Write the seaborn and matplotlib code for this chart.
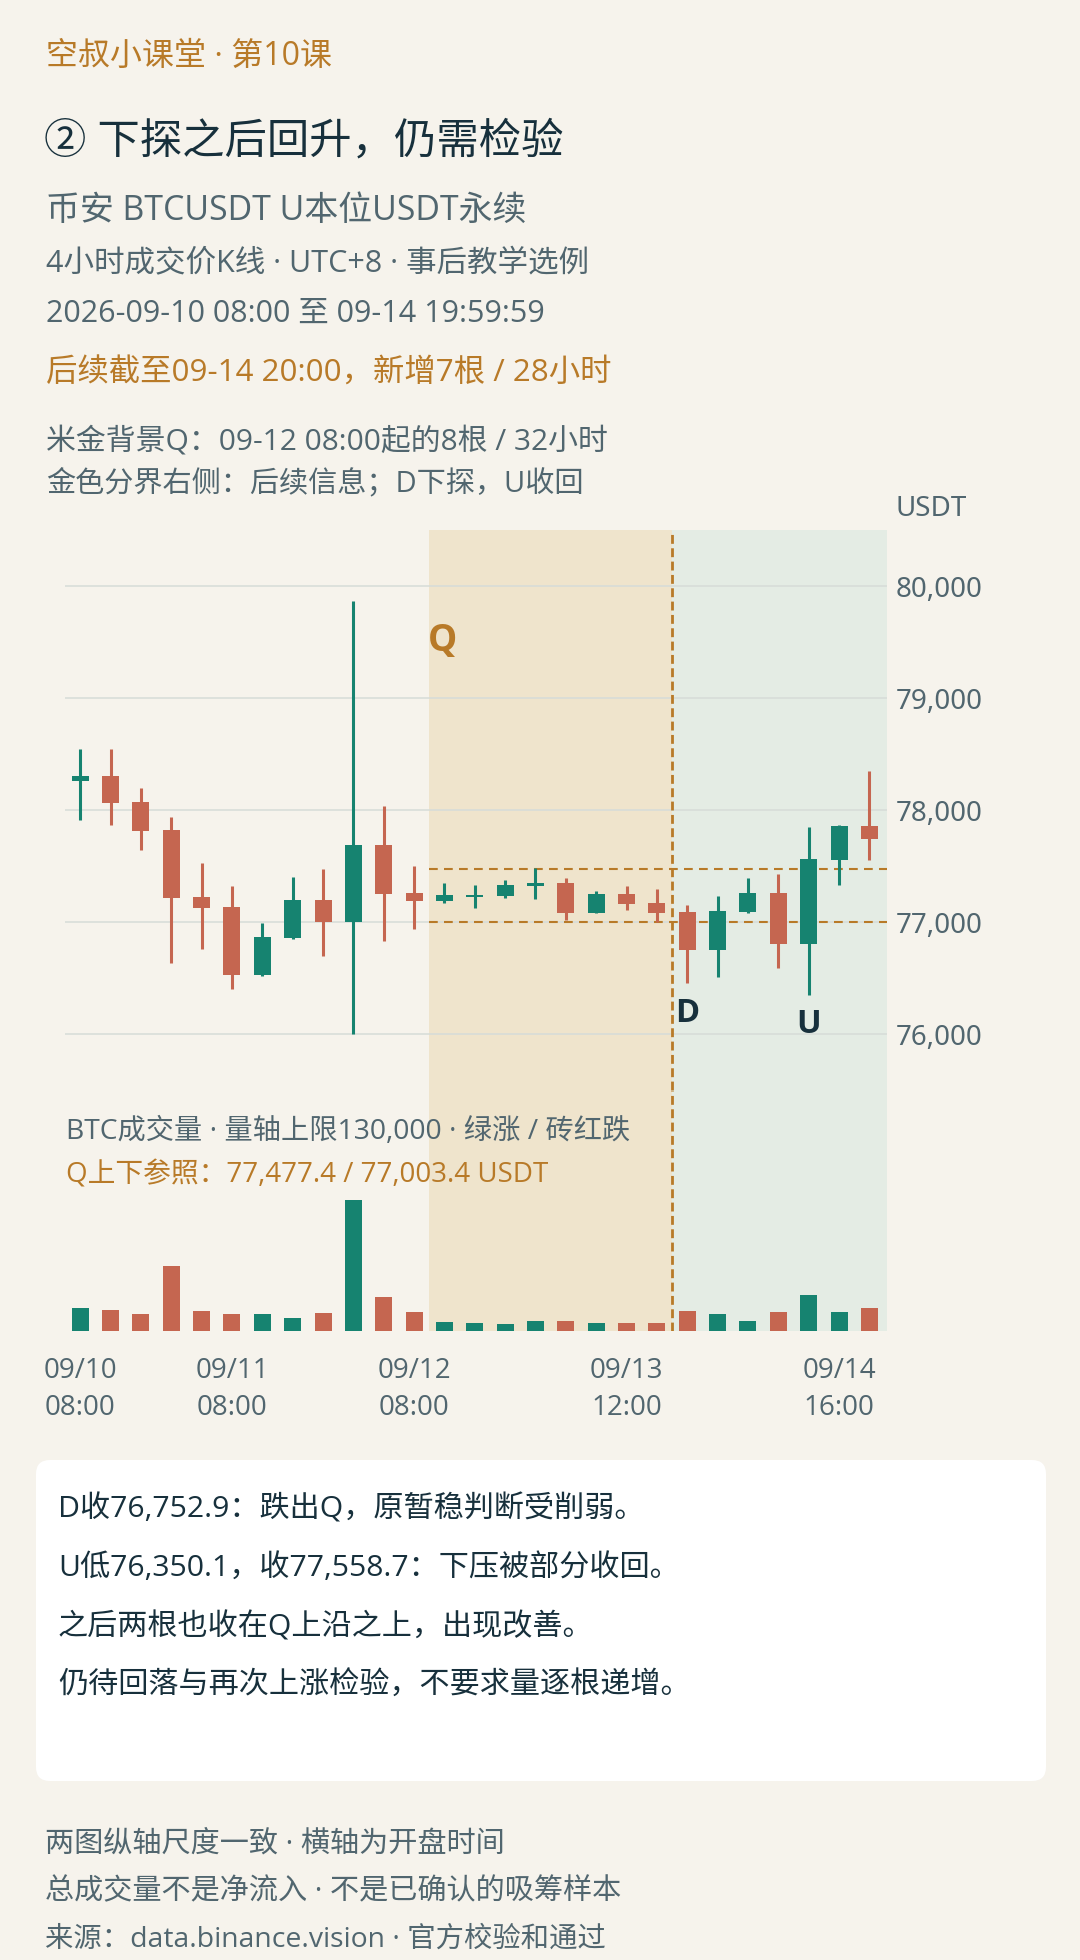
import numpy as np
import pandas as pd
import matplotlib
matplotlib.use("Agg")
import matplotlib.pyplot as plt
from matplotlib.patches import FancyBboxPatch
from matplotlib.ticker import FuncFormatter
import seaborn as sns

# ---------------- data ----------------
opens  = [78260, 78304, 78071, 77821, 77223, 77134, 76530, 76860, 77196, 77000,
          77687, 77259, 77190, 77225, 77235, 77324, 77348, 77083, 77250, 77170,
          77089, 76753, 77089, 77259, 76807, 77556, 77857]
highs  = [78545, 78545, 78196, 77937, 77527, 77321, 76991, 77402, 77473, 79866,
          78036, 77500, 77348, 77330, 77375, 77482, 77393, 77277, 77321, 77295,
          77152, 77232, 77393, 77429, 77848, 77866, 78348]
lows   = [77911, 77866, 77643, 76637, 76762, 76405, 76521, 76851, 76699, 76000,
          76830, 76937, 77173, 77128, 77217, 77208, 77018, 77083, 77110, 77000,
          76458, 76512, 77083, 76592, 76350.1, 77333, 77556]
closes = [78300, 78065, 77815, 77217, 77128, 76530, 76866, 77196, 77000, 77687,
          77253, 77190, 77241, 77245, 77330, 77348, 77083, 77250, 77164, 77083,
          76752.9, 77098, 77259, 76807, 77558.7, 77857, 77744]
volumes = [12200, 11150, 9000, 34900, 10600, 9000, 9000, 6850, 9550, 70500,
           18200, 10100, 4700, 4150, 3600, 5200, 5200, 4150, 4150, 4150,
           10600, 9000, 5200, 10100, 19250, 10100, 12200]
tick_positions = [0, 5, 11, 18, 25]
tick_labels = ["09/10\n08:00", "09/11\n08:00", "09/12\n08:00", "09/13\n12:00", "09/14\n16:00"]
price_ticks = [76000, 77000, 78000, 79000, 80000]
q_upper, q_lower = 77477.4, 77003.4
q_first, q_last = 12, 19
d_index, u_index = 20, 24
vol_max = 130000

# ---------------- style ----------------
BG = "#F6F3EC"
GREEN = "#168370"
RED = "#C56650"
GOLD = "#B87A28"
NAVY = "#17303C"
GRAY = "#51666F"
Q_FILL = "#EFE4CC"
F_FILL = "#E4ECE4"
GRID = "#D6DCD8"

sns.set_theme(style="white")
FAMILY = ["Open Sans", "Noto Sans CJK SC", "DejaVu Sans"]
plt.rcParams["font.family"] = FAMILY
plt.rcParams["axes.unicode_minus"] = False

n = len(opens)
df = pd.DataFrame({"idx": np.arange(n), "open": opens, "high": highs,
                   "low": lows, "close": closes, "volume": volumes})
df["dir"] = np.where(df["close"] >= df["open"], "up", "down")
palette = {"up": GREEN, "down": RED}
df["color"] = df["dir"].map(palette)

fig = plt.figure(figsize=(10.8, 19.6), dpi=100, facecolor=BG)

# background axes in pixel coordinates for layout text
bg = fig.add_axes([0, 0, 1, 1], zorder=-1)
bg.set_xlim(0, 1080)
bg.set_ylim(1960, 0)
bg.axis("off")

W, H = 1080, 1960
left_px, right_px = 65, 887
top_px, mid_px, bot_px = 530, 1090, 1331
ax = fig.add_axes([left_px / W, 1 - mid_px / H, (right_px - left_px) / W, (mid_px - top_px) / H])
axv = fig.add_axes([left_px / W, 1 - bot_px / H, (right_px - left_px) / W, (bot_px - mid_px) / H])
for a in (ax, axv):
    a.set_facecolor("none")
    for s in a.spines.values():
        s.set_visible(False)

xlim = (-0.5, 26.58)

# shading + divider on both panels
for a in (ax, axv):
    a.axvspan(q_first - 0.5, q_last + 0.5, color=Q_FILL, lw=0, zorder=0)
    a.axvspan(q_last + 0.5, xlim[1], color=F_FILL, lw=0, zorder=0)
    a.axvline(q_last + 0.5, color=GOLD, lw=2.0, ls=(0, (3.2, 1.6)), zorder=4)

# ---------------- price panel ----------------
ax.set_xlim(*xlim)
ax.set_ylim(75500, 80500)
ax.set_yticks(price_ticks)
ax.yaxis.tick_right()
ax.yaxis.set_major_formatter(FuncFormatter(lambda v, p: f"{v:,.0f}"))
ax.tick_params(axis="y", length=0, pad=6, labelsize=20, labelcolor=GRAY)
for lbl in ax.get_yticklabels():
    lbl.set_fontfamily(["Noto Sans", "DejaVu Sans"])
ax.set_xticks([])
ax.grid(axis="y", color=GRID, lw=1.1, zorder=1)
ax.set_axisbelow(True)

# Q reference lines
ax.hlines([q_upper, q_lower], q_first - 0.5, xlim[1], colors=GOLD, lw=1.5,
          linestyles=[(0, (4.2, 3.0))], zorder=3)

# candles
ax.vlines(df["idx"], df["low"], df["high"], colors=df["color"], lw=2.2, zorder=5)
body_lo = np.minimum(df["open"], df["close"])
body_h = np.maximum(np.abs(df["close"] - df["open"]), 18)
ax.bar(df["idx"], body_h, bottom=body_lo, width=0.56, color=df["color"], lw=0, zorder=6)

LBL_FAMILY = ["Open Sans", "DejaVu Sans"]
ax.text(q_first - 0.55, 79510, "Q", fontsize=26.5, fontweight="bold", color=GOLD,
        ha="left", va="center", family=LBL_FAMILY, zorder=7)
ax.text(d_index, lows[d_index] - 275, "D", fontsize=23.5, fontweight="bold", color=NAVY,
        ha="center", va="center", family=LBL_FAMILY, zorder=7)
ax.text(u_index, lows[u_index] - 265, "U", fontsize=23.5, fontweight="bold", color=NAVY,
        ha="center", va="center", family=LBL_FAMILY, zorder=7)

# ---------------- volume panel ----------------
sns.barplot(data=df, x="idx", y="volume", hue="dir", palette=palette, native_scale=True,
            dodge=False, width=0.56, linewidth=0, saturation=1, legend=False, ax=axv, zorder=3)
axv.set_xlim(*xlim)
axv.set_ylim(0, vol_max)
axv.set_yticks([])
axv.set_ylabel("")
axv.set_xlabel("")
axv.set_xticks(tick_positions)
axv.set_xticklabels(tick_labels, linespacing=1.42)
axv.tick_params(axis="x", length=0, pad=19, labelsize=20, labelcolor=GRAY)

axv.text(66, 1132, "BTC成交量 · 量轴上限130,000 · 绿涨 / 砖红跌", transform=bg.transData,
         fontsize=20.3, color=GRAY, ha="left", va="center", zorder=8)
axv.text(66, 1175, "Q上下参照：77,477.4 / 77,003.4 USDT", transform=bg.transData,
         fontsize=20, color=GOLD, ha="left", va="center", zorder=8)

# ---------------- header text ----------------
bg.text(46, 56, "空叔小课堂 · 第10课", fontsize=23, color=GOLD, va="center")
bg.text(44, 143, "② 下探之后回升，仍需检验", fontsize=30.5, color=NAVY, va="center")
bg.text(46, 211, "币安 BTCUSDT U本位USDT永续", fontsize=24.4, color=GRAY, va="center")
bg.text(46, 264, "4小时成交价K线 · UTC+8 · 事后教学选例", fontsize=22, color=GRAY, va="center")
bg.text(46, 314, "2026-09-10 08:00 至 09-14 19:59:59", fontsize=22, color=GRAY, va="center")
bg.text(46, 374, "后续截至09-14 20:00，新增7根 / 28小时", fontsize=22.6, color=GOLD, va="center")
bg.text(46, 442, "米金背景Q：09-12 08:00起的8根 / 32小时", fontsize=21.5, color=GRAY, va="center")
bg.text(46, 484, "金色分界右侧：后续信息；D下探，U收回", fontsize=21, color=GRAY, va="center")
bg.text(896, 509, "USDT", fontsize=20, color=GRAY, va="center",
        family=["Noto Sans", "DejaVu Sans"])

# ---------------- note box ----------------
box = FancyBboxPatch((36, 1460), 1010, 321, boxstyle="round,pad=0,rounding_size=14",
                     fc="white", ec="none")
bg.add_patch(box)
notes = ["D收76,752.9：跌出Q，原暂稳判断受削弱。",
         "U低76,350.1，收77,558.7：下压被部分收回。",
         "之后两根也收在Q上沿之上，出现改善。",
         "仍待回落与再次上涨检验，不要求量逐根递增。"]
for i, t in enumerate(notes):
    bg.text(58, 1509 + i * 59, t, fontsize=21.7, color=NAVY, va="center")

footer = ["两图纵轴尺度一致 · 横轴为开盘时间",
          "总成交量不是净流入 · 不是已确认的吸筹样本",
          "来源：data.binance.vision · 官方校验和通过"]
footer_sizes = [21, 21, 20.4]
for i, (t, fs) in enumerate(zip(footer, footer_sizes)):
    bg.text(45, 1844 + i * 48, t, fontsize=fs, color=GRAY, va="center")

fig.savefig("out.png", dpi=100, facecolor=BG)
